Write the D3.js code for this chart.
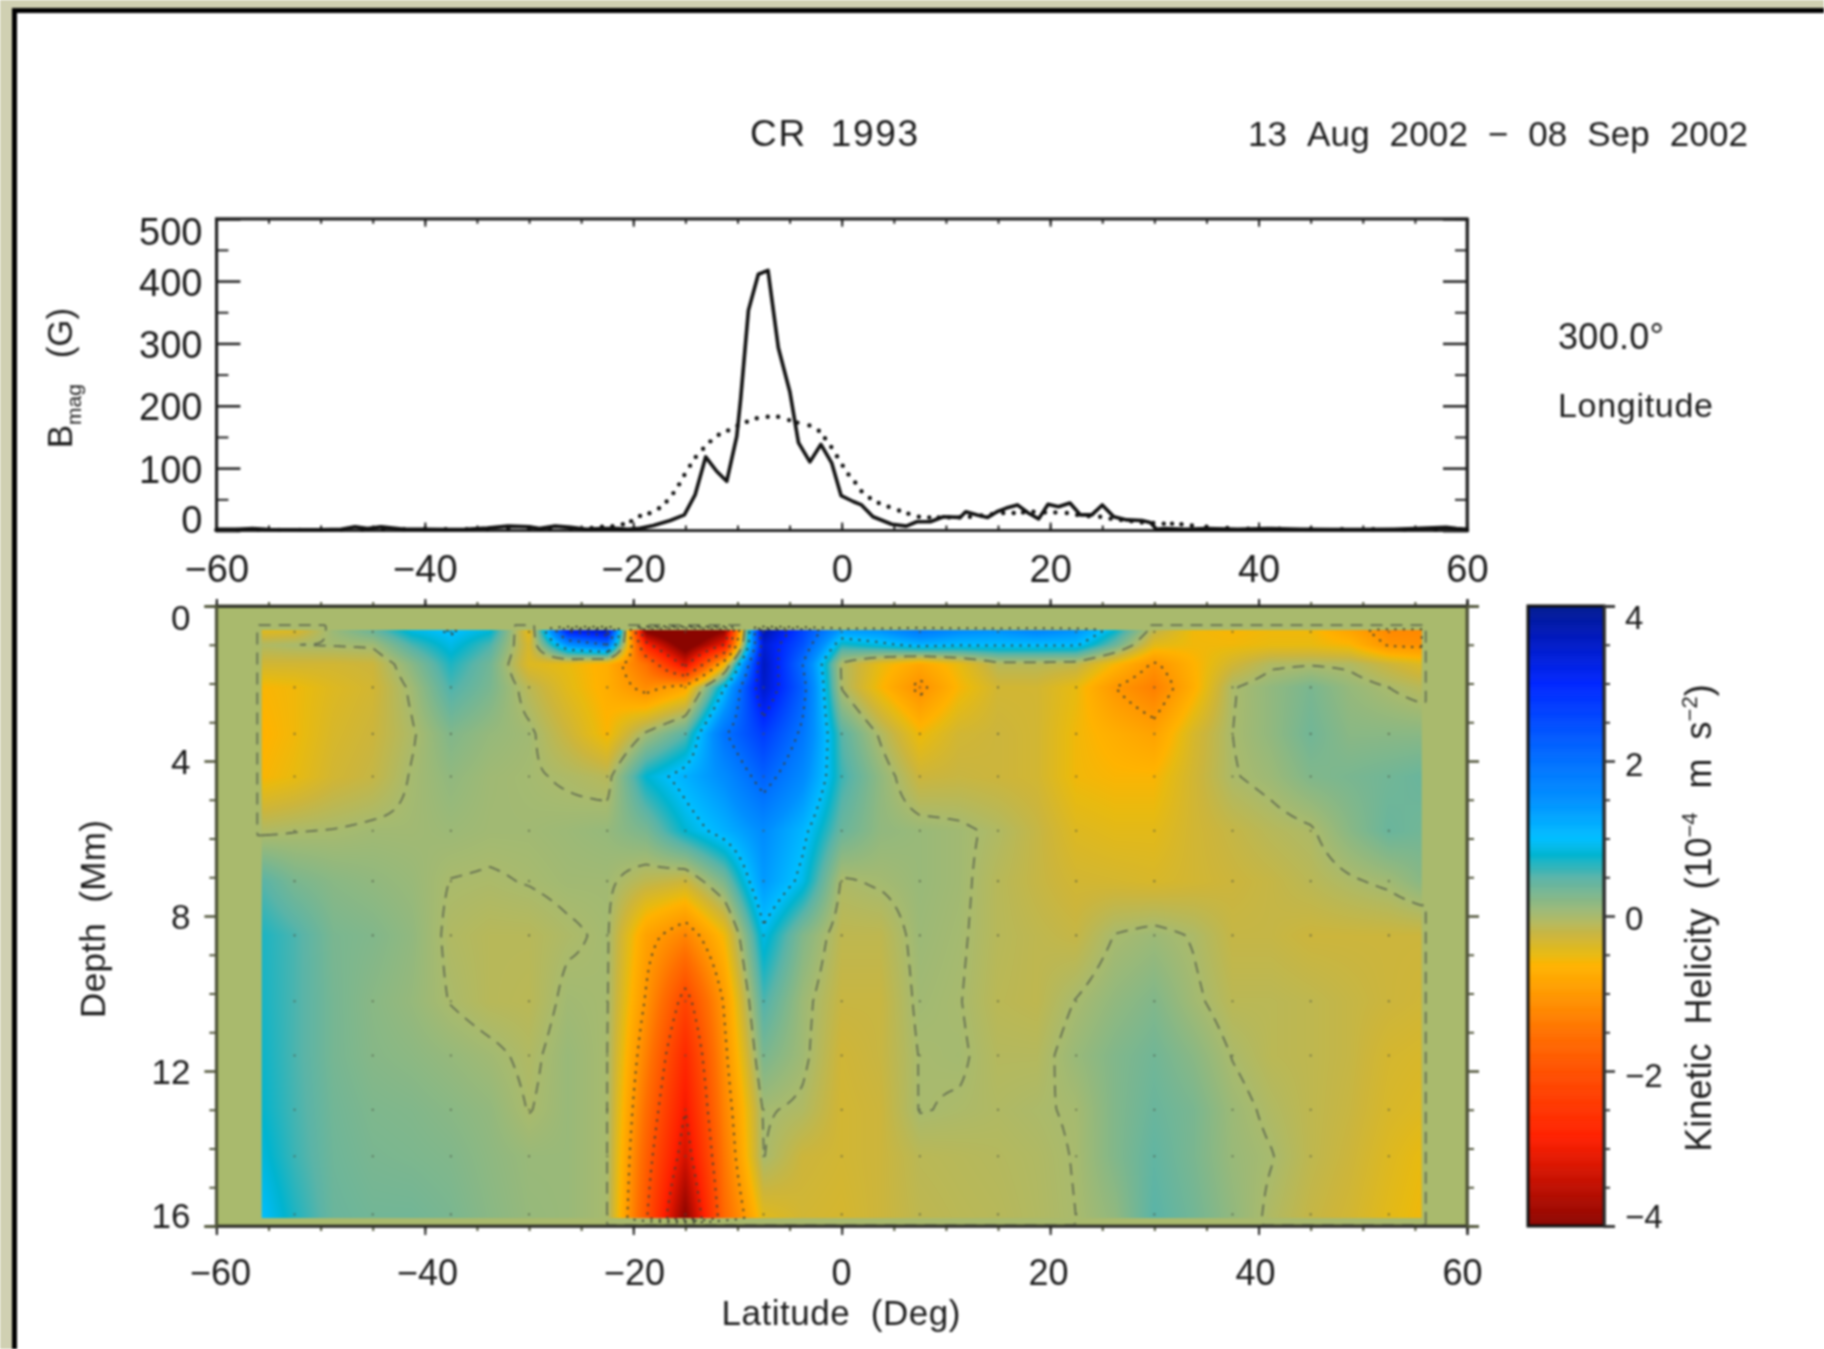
<!DOCTYPE html>
<html><head><meta charset="utf-8">
<style>
html,body{margin:0;padding:0;background:#fff;overflow:hidden}
svg{display:block;filter:blur(1px)}
text{font-family:"Liberation Sans",Arial,sans-serif;fill:#1c1c1c}
</style>
<script src="https://cdn.jsdelivr.net/npm/d3@7"></script>
</head><body><svg id="chart" width="1824" height="1349"></svg>
<script>
// ---------- top panel data ----------
const bmagLat=[-60,-58,-56.5,-55,-52,-50,-48,-46.7,-45.5,-44.2,-42,-40,-38,-36,-34,-32,-30,-29,-27.5,-26,-24.5,-23,-21.5,-20.5,-19.35,-18.07,-16.45,-15.1,-14.07,-13.05,-12,-11.03,-10.07,-9.7,-8.95,-8,-7.07,-6.08,-4.97,-4.15,-3.05,-2,-0.95,-0.06,1.1,1.9,3,4.8,6.2,7.2,8.5,9.76,11.36,11.9,13,14,14.9,15.8,16.86,17.9,18.9,19.8,20.8,21.9,22.9,24,25,26.1,27.35,28.8,29.6,30.2,31,33,35,38,41,44,47,50,53,55,58,59,60];
const bmagSolid=[2,2,3,1.5,1,1,2,6,3,6,2,2,1.5,2,4,7,6,3,7,5,2,3,3,2,3.5,8,16,25,57,118,95,79,151,210,353,411,417,293,222,141,110,138,108,56,46.5,41,22,10,7,14,14,22,21,30,25,21,30,36,41,28,18.6,42,38,44,25,25,41,22,17,16,13,2,3,2,3,2,3,2,1.5,1.5,2,3,5,3,2];
const smoothLat=[-60,-58,-56,-54,-52,-50,-48,-46,-44,-42,-40,-38,-36,-34,-32,-30,-28,-26,-24,-23,-22,-21,-20.2,-19.35,-18.45,-17.53,-16.8,-16.15,-15.6,-15.1,-14.55,-14,-13.3,-12.6,-11.8,-10.9,-10,-9.1,-8.15,-7.1,-6.1,-5.05,-4.25,-3.1,-2.2,-1.6,-1,-0.45,0.1,0.65,1.3,1.9,2.7,3.55,4.5,5.5,6.4,7.4,8.4,9.3,10.3,11.3,12.3,13.4,14.4,15.5,16.5,17.4,18.4,19.5,20.5,21.6,22.6,23.7,24.8,25.8,26.8,27.8,28.8,29.9,30.9,31.7,32.6,33.6,35,37,39,42,45,48,51,54,57,60];
const bmagSmooth=[1,1,1,1,1,1,1,1,2,2,2,2,2,2,3,3,3,3,4,6,7,10,15,23.4,27.7,35.8,46.5,60,74,89,104,118,131,143,153.5,160.5,168,174.5,180,182.5,182.5,177,173,168.5,160,148,134,119,104,90,77,63,52,44,38,32,27,22,21,21,21,21,22,24,26,28,28,29,30,29,29,28,25,23,22,19,17,15,13,12,11,11,10,8,6,4,3,3,2,2,2,1,1,1];
const bmagTicks=[0,100,200,300,400,500];
// ---------- heat map data: helicity by depth (rows) and latitude (columns) ----------
const latitudes=[-55.6,-52.5,-48.75,-45,-41.25,-37.5,-33.75,-30,-26.25,-22.5,-18.75,-15,-11.25,-7.5,-3.75,0,3.75,7.5,11.25,15,18.75,22.5,26.25,30,33.75,37.5,41.25,45,48.75,52.5,55.6];
const depths=[0.62,1.0,1.5,2.1,3.3,4.4,5.8,7.1,8.5,10.2,11.6,13.0,14.2,15.8];
const h00=[-.45,-.4,.1,.4,.9,1.05,.85,-.5,3.2,3.6,-4.2,-5,-4,3.8,2.6,1.4,1.5,1.9,1.6,1.5,1.7,1.5,.8,-.15,-.55,-.6,-.55,-.55,-.85,-1.2,-1.2];
const h01=[-.05,0,.02,.05,.55,.9,.55,-.35,1.5,2,-2.8,-4.4,-3,3.4,2.4,.7,.9,1.15,1.05,1.05,1.05,1.05,.4,-.45,-.55,-.55,-.5,-.5,-.6,-1.05,-1.1];
const h02=[-.3,-.3,-.3,-.25,.2,.7,.35,-.4,-.5,-.7,-1.5,-3.2,-.6,3.6,2,-.05,-.5,-.8,-.5,-.1,-.1,-.15,-.6,-1.05,-.65,-.3,-.05,-.02,-.05,-.25,-.4];
const h03=[-.6,-.55,-.4,-.3,.05,.55,.3,-.12,-.45,-.7,-1.15,-.8,1,3.5,2.2,-.02,-.6,-1.1,-.6,-.3,-.3,-.5,-1,-1.3,-.7,-.02,.15,.3,.12,0,-.1];
const h04=[-.65,-.55,-.35,-.25,-.03,.25,.12,.05,-.25,-.6,.05,.5,1.95,2.7,1.9,.5,-.05,-.55,-.3,-.25,-.3,-.55,-.7,-.85,-.35,0,.15,.35,.2,.2,.2];
const h05=[-.6,-.5,-.3,-.2,.02,.15,.06,.03,-.03,-.1,.8,1.15,1.55,2.2,1.6,.6,.15,-.25,-.22,-.25,-.3,-.55,-.6,-.6,-.3,-.02,.08,.25,.3,.35,.4];
const h06=[-.05,-.01,.01,.05,.05,.08,.05,.05,.08,.12,.3,.8,1.15,1.55,1.1,.4,.15,.1,.05,-.05,-.2,-.4,-.45,-.45,-.3,-.2,-.1,-.03,.2,.4,.35];
const h07=[.5,.3,.2,.15,.1,-.005,-.02,.01,.05,.05,-.15,-.25,.3,1.4,.9,-.03,.03,.1,.05,-.1,-.2,-.3,-.32,-.35,-.3,-.25,-.2,-.12,-.03,.05,.2];
const h08=[.7,.55,.3,.25,.15,-.05,-.1,-.1,-.03,.03,-.85,-1.25,-.55,.9,.25,-.15,-.15,.08,.03,-.1,-.15,-.2,.01,.08,-.02,-.2,-.2,-.25,-.25,-.25,-.25];
const h09=[.72,.55,.32,.2,.12,-.01,-.1,-.12,.05,.02,-1.05,-2.2,-.95,.55,.08,-.22,-.22,.05,.01,-.12,-.15,.01,.15,.25,.05,-.12,-.12,-.15,-.2,-.25,-.28];
const h10=[.75,.55,.32,.22,.18,.12,.05,-.05,.1,.01,-1.3,-2.7,-1.1,.3,.06,-.28,-.22,.01,.03,-.08,-.08,.1,.25,.35,.2,-.01,-.12,-.15,-.2,-.32,-.35];
const h11=[.78,.57,.35,.27,.25,.2,.14,-.01,.1,.01,-1.55,-3,-1.25,.03,-.05,-.3,-.25,.01,-.02,-.05,-.02,.02,.25,.4,.3,.08,-.05,-.15,-.22,-.35,-.4];
const h12=[.85,.6,.37,.3,.28,.25,.17,.1,.1,.01,-1.75,-3.3,-1.4,.01,-.25,-.3,-.25,-.12,-.1,-.08,-.05,.01,.25,.45,.3,.1,.01,-.15,-.25,-.4,-.5];
const h13=[1,.7,.4,.35,.35,.3,.2,.12,.1,.01,-1.95,-4,-1.6,-.45,-.3,-.33,-.25,-.15,-.12,-.1,-.06,0,.15,.5,.35,.15,-.05,-.2,-.3,-.45,-.55];
const helicity=[h00,h01,h02,h03,h04,h05,h06,h07,h08,h09,h10,h11,h12,h13];
const gridLat=[-52.5,-45,-37.5,-30,-22.5,-15,-7.5,0,7.5,15,22.5,30,37.5,45,52.5];
const gridDepth=[0.67,2.1,3.3,4.4,5.8,7.1,8.5,10.2,11.6,13,14.2,15.7];
const cbValues=[4,3.65,3,2,1.5,1,.79,.5,0,-.25,-.5,-.63,-1,-1.5,-2,-2.85,-3.4,-4];
const cbColors=["#001a90","#0018b8","#0026ff","#0070ff","#0090ff","#00bfff","#00b4d0","#5ab4a8","#a9ba6d","#ccb53c","#e8ba10","#ffb300","#ff9800","#ff7000","#ff5000","#ff2000","#c81000","#8a0500"];
const cbTicks=[-4,-2,0,2,4];
const depthTicks=[0,4,8,12,16];
const latTicks=[-60,-40,-20,0,20,40,60];

const svg=d3.select("#chart");
const minus=v=>String(v).replace("-","\u2212");
const ink="#222", ink2="#50553a";
// frame
svg.append("rect").attr("width",1824).attr("height",1349).attr("fill","#d0d0b2");
svg.append("rect").attr("x",12).attr("y",8).attr("width",1812).attr("height",1341).attr("fill","#000");
svg.append("rect").attr("x",17).attr("y",13).attr("width",1807).attr("height",1336).attr("fill","#fff");

function label(txt,x,y,size,len,rot,anchor){
  const t=svg.append("text").attr("font-size",size).attr("dy",".35em").text(txt)
    .attr("text-anchor",anchor||"middle");
  if(rot) t.attr("transform",`translate(${x},${y}) rotate(-90)`); else t.attr("x",x).attr("y",y);
  if(len) t.attr("textLength",len).attr("lengthAdjust","spacing");
  return t;
}
const nb="\u00a0";
label("CR"+nb+nb+"1993",834,133,37,168);
label(`13${nb}${nb}Aug${nb}${nb}2002${nb}${nb}\u2212${nb}${nb}08${nb}${nb}Sep${nb}${nb}2002`,1498,134,35,500);
label("300.0\u00b0",1558,336,36,106,false,"start");
label("Longitude",1558,405,34,155,false,"start");
label("Latitude"+nb+nb+"(Deg)",841,1313,35,239);
label("Depth"+nb+nb+"(Mm)",93,919,35,198,true);

// subscript / superscript labels
const bm=svg.append("text").attr("transform","translate(60,378) rotate(-90)").attr("text-anchor","middle").attr("font-size",35).attr("dy",".35em").attr("word-spacing",8);
bm.append("tspan").text("B");
bm.append("tspan").text("mag").attr("font-size",21).attr("dy",9);
bm.append("tspan").text(" (G)").attr("dy",-9).attr("dx",8);
const kh=svg.append("text").attr("transform","translate(1698,918) rotate(-90)").attr("text-anchor","middle").attr("font-size",36).attr("dy",".35em").attr("word-spacing",9);
kh.append("tspan").text("Kinetic Helicity (10");
kh.append("tspan").text("\u22124").attr("font-size",22).attr("dy",-14);
kh.append("tspan").text(" m s").attr("dy",14).attr("dx",5);
kh.append("tspan").text("\u22122").attr("font-size",22).attr("dy",-14);
kh.append("tspan").text(")").attr("dy",14);

// ---------- top panel ----------
const tL=216.4,tR=1467,tT=218.7,tB=530.5;
const xT=d3.scaleLinear([-60,60],[tL,tR]);
const yT=d3.scaleLinear([0,500],[tB,tT]);
const minorX=d3.range(-60,61,5), minorY=d3.range(50,500,100);
function ax(gen,tx,ty,color,w){
  const g=svg.append("g").attr("transform",`translate(${tx},${ty})`).call(gen);
  g.selectAll("path,line").attr("stroke",color).attr("stroke-width",w);
  return g;
}
svg.append("rect").attr("x",tL).attr("y",tT).attr("width",tR-tL).attr("height",tB-tT).attr("fill","none").attr("stroke",ink).attr("stroke-width",2.8);
ax(d3.axisBottom(xT).tickValues(minorX).tickSize(-5).tickFormat(""),0,tB,ink,2);
ax(d3.axisTop(xT).tickValues(minorX).tickSize(-5).tickFormat(""),0,tT,ink,2);
ax(d3.axisTop(xT).tickValues(latTicks).tickSize(-8).tickFormat(""),0,tT,ink,2);
const tbx=ax(d3.axisBottom(xT).tickValues(latTicks).tickSize(-8).tickPadding(25).tickFormat(minus),0,tB,ink,2);
tbx.selectAll("text").attr("font-size",38).attr("font-family","Liberation Sans").attr("fill","#1c1c1c");
const tly=ax(d3.axisLeft(yT).tickValues(bmagTicks).tickSize(-24).tickPadding(14),tL,0,ink,2.5);
tly.selectAll("text").attr("font-size",38).attr("font-family","Liberation Sans").attr("fill","#1c1c1c")
  .attr("y",d=>d===500?14:(d===0?-10:2));
ax(d3.axisLeft(yT).tickValues(minorY).tickSize(-12).tickFormat(""),tL,0,ink,2);
ax(d3.axisRight(yT).tickValues(bmagTicks).tickSize(-24).tickFormat(""),tR,0,ink,2.5);
ax(d3.axisRight(yT).tickValues(minorY).tickSize(-12).tickFormat(""),tR,0,ink,2);
svg.append("g").selectAll("circle").data(smoothLat).join("circle")
  .attr("cx",d=>xT(d)).attr("cy",(d,i)=>yT(bmagSmooth[i])).attr("r",2.2).attr("fill","#111");
svg.append("path").attr("fill","none").attr("stroke","#111").attr("stroke-width",3.6).attr("stroke-linejoin","round")
  .attr("d",d3.line().x(d=>xT(d)).y((d,i)=>yT(bmagSolid[i]))(bmagLat));

// ---------- heat map ----------
const hL=216.4,hR=1467,hT=606,hB=1226;
const x=d3.scaleLinear([-60,60],[hL,hR]);
const y=d3.scaleLinear([0,16],[hT,hB]);
const color=d3.scaleLinear().domain(cbValues.slice().reverse()).range(cbColors.slice().reverse()).interpolate(d3.interpolateRgb).clamp(true);
const zeroCol=color(0);
svg.append("rect").attr("x",hL).attr("y",hT).attr("width",hR-hL).attr("height",hB-hT).attr("fill",zeroCol);

// field with zero padding just outside the data area (contours close there)
const padLat=[-56].concat(latitudes,[56]);
const padDepth=[0.5].concat(depths,[15.95]);
const padVals=[new Array(padLat.length).fill(0)]
  .concat(helicity.map(r=>[0].concat(r,[0])),[new Array(padLat.length).fill(0)]);
function sample(lat,dep){
  if(lat<=padLat[0]||lat>=padLat[padLat.length-1]||dep<=padDepth[0]||dep>=padDepth[padDepth.length-1])return 0;
  const i=d3.bisectRight(padLat,lat)-1, j=d3.bisectRight(padDepth,dep)-1;
  const u=(lat-padLat[i])/(padLat[i+1]-padLat[i]), v=(dep-padDepth[j])/(padDepth[j+1]-padDepth[j]);
  return (padVals[j][i]*(1-u)+padVals[j][i+1]*u)*(1-v)+(padVals[j+1][i]*(1-u)+padVals[j+1][i+1]*u)*v;
}
// raster
const imgL=x(-55.65),imgR=x(55.65),imgT=y(0.62),imgB=y(15.8);
const cw=Math.round(imgR-imgL),ch=Math.round(imgB-imgT);
const cv=document.createElement("canvas");cv.width=cw;cv.height=ch;
const c2=cv.getContext("2d"),id=c2.createImageData(cw,ch);
for(let j=0;j<ch;j++)for(let i=0;i<cw;i++){
  const c=d3.rgb(color(sample(x.invert(imgL+i+.5),y.invert(imgT+j+.5))));
  const k=(j*cw+i)*4;id.data[k]=c.r;id.data[k+1]=c.g;id.data[k+2]=c.b;id.data[k+3]=255;
}
c2.putImageData(id,0,0);
svg.append("image").attr("x",imgL).attr("y",imgT).attr("width",cw).attr("height",ch).attr("href",cv.toDataURL());

// contours
const step=1.5,cx0=x(-56.8),cy0=y(0.3);
const nx=Math.ceil((x(56.8)-cx0)/step),ny=Math.ceil((y(16)-cy0)/step);
const fld=new Float64Array(nx*ny);
for(let j=0;j<ny;j++)for(let i=0;i<nx;i++)fld[j*nx+i]=sample(x.invert(cx0+i*step),y.invert(cy0+j*step));
const proj=d3.geoPath(d3.geoTransform({point(a,b){this.stream.point(cx0+(a-.5)*step,cy0+(b-.5)*step);}}));
function contour(sign,level,dash,stroke,w,cap){
  const vals=Array.from(fld,v=>v*sign);
  const g=d3.contours().size([nx,ny]).thresholds([level])(vals)[0];
  svg.append("path").attr("d",proj(g)).attr("fill","none").attr("stroke",stroke).attr("stroke-width",w)
    .attr("stroke-dasharray",dash).attr("stroke-linecap",cap);
}
contour(-1,1e-4,"12 8","#667052",1.8,"butt");
[1,2,3].forEach(l=>{contour(1,l,"0.5 8","#3c4232",2,"round");contour(-1,l,"0.5 8","#3c4232",2,"round");});
// grid dots
const dotG=svg.append("g");
gridDepth.forEach(d=>gridLat.forEach(l=>dotG.append("circle").attr("cx",x(l)).attr("cy",y(d)).attr("r",1.1).attr("fill","#4a5040").attr("opacity",.7)));

// axes of heat map (outward ticks)
svg.append("rect").attr("x",hL).attr("y",hT).attr("width",hR-hL).attr("height",hB-hT).attr("fill","none").attr("stroke",ink2).attr("stroke-width",3);
const latLabelX=d3.scaleLinear([-60,60],[220,1462]);
ax(d3.axisTop(x).tickValues(minorX).tickSize(4).tickFormat(""),0,hT,ink2,2);
ax(d3.axisTop(x).tickValues(latTicks).tickSize(7).tickFormat(""),0,hT,ink,2);
ax(d3.axisBottom(x).tickValues(minorX).tickSize(5).tickFormat(""),0,hB,ink2,2);
const hbx=ax(d3.axisBottom(x).tickValues(latTicks).tickSize(9).tickPadding(24).tickFormat(minus),0,hB,ink,2);
hbx.selectAll("text").attr("font-size",36).attr("font-family","Liberation Sans").attr("fill","#1c1c1c").attr("x",d=>latLabelX(d)-x(d));
const minorD=d3.range(1,16).filter(d=>d%4);
const hly=ax(d3.axisLeft(y).tickValues(depthTicks).tickSize(12).tickPadding(14),hL,0,ink2,2.5);
hly.selectAll("text").attr("font-size",35).attr("font-family","Liberation Sans").attr("fill","#1c1c1c")
  .attr("y",d=>d===0?12:(d===16?-10:1));
ax(d3.axisLeft(y).tickValues(minorD).tickSize(7).tickFormat(""),hL,0,ink2,2);
ax(d3.axisRight(y).tickValues(depthTicks).tickSize(12).tickFormat(""),hR,0,ink2,2.5);
ax(d3.axisRight(y).tickValues(minorD).tickSize(7).tickFormat(""),hR,0,ink2,2);

// colour bar
const cbL=1528,cbR=1604;
const yc=d3.scaleLinear([-4,4],[hB,hT]);
svg.append("g").selectAll("rect").data(d3.range(-4,4,0.02)).join("rect")
  .attr("x",cbL).attr("width",cbR-cbL).attr("y",d=>yc(d+0.02)).attr("height",d=>yc(d)-yc(d+0.02)+.5).attr("fill",d=>color(d+.01));
svg.append("rect").attr("x",cbL).attr("y",hT).attr("width",cbR-cbL).attr("height",hB-hT).attr("fill","none").attr("stroke","#111").attr("stroke-width",3);
const cby=ax(d3.axisRight(yc).tickValues(cbTicks).tickSize(11).tickPadding(10).tickFormat(minus),cbR,0,"#333",2.5);
cby.selectAll("text").attr("font-size",33).attr("font-family","Liberation Sans").attr("fill","#1c1c1c")
  .attr("y",d=>d===4?12:(d===-4?-9:(d===2?4:(d===0?3:5))));
ax(d3.axisRight(yc).tickValues(d3.range(-3.5,4,.5).filter(d=>d%2)).tickSize(6).tickFormat(""),cbR,0,"#333",2);
</script></body></html>
